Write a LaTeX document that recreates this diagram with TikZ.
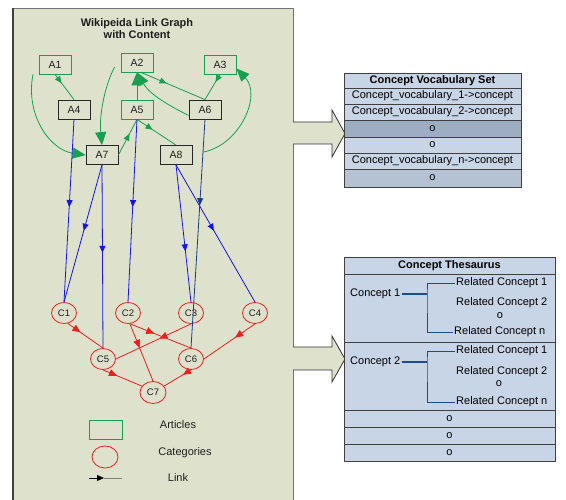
\documentclass[tikz,border=0pt]{standalone}
\usepackage{fontspec}
\setmainfont{Liberation Sans}
\usetikzlibrary{arrows.meta,decorations.markings,shapes.geometric}

\definecolor{panel}{RGB}{222,225,204}
\definecolor{agreen}{RGB}{22,160,80}
\definecolor{cred}{RGB}{240,30,30}
\definecolor{lblue}{RGB}{20,20,235}
\definecolor{navyl}{RGB}{25,60,130}
\definecolor{rowbg}{RGB}{200,213,230}
\definecolor{rowdark}{RGB}{158,174,194}
\definecolor{rowmid}{RGB}{180,194,212}
\definecolor{brk}{RGB}{30,75,140}
\definecolor{txt}{RGB}{30,30,30}

\begin{document}
\begin{tikzpicture}[x=1pt,y=-1pt,
  art/.style={draw=agreen, line width=0.8pt, minimum width=32pt, minimum height=19pt, inner sep=0pt, font=\fontsize{10.5}{12}\selectfont, text=txt},
  artk/.style={art, draw=black!85},
  cat/.style={ellipse, draw=cred, line width=0.8pt, minimum width=25pt, minimum height=21pt, inner sep=0pt, font=\fontsize{9.5}{11}\selectfont, text=txt},
  midarr/.style={postaction={decorate,decoration={markings,mark=at position #1 with {\arrow{Triangle[length=7pt,width=6pt]}}}}},
  redarr/.style={postaction={decorate,decoration={markings,mark=at position #1 with {\arrow{Triangle[length=8pt,width=7pt]}}}}},
  gl/.style={color=agreen, line width=0.8pt},
  bigtip/.style={-{Triangle[length=13pt,width=11pt]}},
  bl/.style={color=lblue, line width=0.8pt},
  nl/.style={color=navyl, line width=0.8pt},
  rl/.style={color=cred, line width=0.8pt},
  rowbox/.style={draw=black!75, line width=0.8pt, fill=rowbg, inner sep=0pt, font=\fontsize{11}{13}\selectfont, text=black},
  lab/.style={font=\fontsize{11}{13}\selectfont, text=black, inner sep=1pt},
  leg/.style={font=\fontsize{11}{13}\selectfont, text=txt},
  blockarrow/.style={fill=panel, draw=black!80, line width=0.8pt}
]
\useasboundingbox (0,0) rectangle (566,500);
\fill[white] (0,0) rectangle (566,500);

% left panel
\fill[panel] (13,8) rectangle (293,500);
\draw[black!55, line width=0.8pt] (13,8) -- (293,8) -- (293,500);
\draw[black!75, line width=1.2pt] (13,8) -- (13,500);

% block arrows
\draw[blockarrow] (293,122) -- (332,122) -- (332,110) -- (345,133.5) -- (332,157) -- (332,144) -- (293,144);
\draw[blockarrow] (293,347) -- (332,347) -- (332,336) -- (345,359) -- (332,382) -- (332,370) -- (293,370);

% title
\node[font=\bfseries\fontsize{11}{12}\selectfont, align=center, text=txt] (title) at (137,29) {Wikipeida Link Graph\\with Content};

% articles
\node[art]  (A1) at (55,64.5) {A1};
\node[art]  (A2) at (137,62.5) {A2};
\node[art]  (A3) at (220,64.5) {A3};
\node[artk] (A4) at (74,109.5) {A4};
\node[art]  (A5) at (137,109.5) {A5};
\node[artk] (A6) at (205,109.5) {A6};
\node[artk] (A7) at (102,155) {A7};
\node[artk] (A8) at (176,155) {A8};

% categories
\node[cat] (C1) at (64,313) {C1};
\node[cat] (C2) at (128,313) {C2};
\node[cat] (C3) at (191,313) {C3};
\node[cat] (C4) at (255,313) {C4};
\node[cat] (C5) at (103,359) {C5};
\node[cat] (C6) at (191,359) {C6};
\node[cat, minimum width=26pt, minimum height=22pt] (C7) at (153,392.5) {C7};

% green links
\draw[gl, midarr=0.35] (A1.south) -- (A4.north);
\draw[gl, midarr=0.3] (A3.south) -- (A6.north);
\draw[gl, bigtip] (A5.north) -- (A2.south);
\draw[gl, bigtip] (A6.200) .. controls (170,106) and (150,95) .. (A2.south);
\draw[gl, midarr=0.4] ([xshift=4]A2.south) -- (A6.north);
\draw[gl, midarr=0.4] (A5.south) -- (A8.north);
\draw[gl, midarr=0.6] (A7.east) -- (A5.south);
\draw[gl, bigtip] ([xshift=-22]A1.south) .. controls (25,115) and (50,150) .. (A7.west);
\draw[gl, bigtip] ([xshift=-6,yshift=-4.5]A2.west) .. controls (105,85) and (99,115) .. (A7.north);
\draw[gl, bigtip] ([xshift=11,yshift=3]A8.east) .. controls (240,145) and (262,95) .. ([yshift=-4]A3.east);

% blue links
\draw[bl, midarr=0.48] (A4.south) -- (C1.north);
\draw[bl, midarr=0.48] (A7.south) -- (C1.north);
\draw[bl, midarr=0.48] (A7.south) -- (C5.north);
\draw[bl, midarr=0.48] (A5.south) -- (C2.north);
\draw[bl, midarr=0.63] (A8.south) -- (C3.north);
\draw[bl, midarr=0.48] (A8.south) -- (C4.north);
\draw[nl, midarr=0.375] (A6.south) -- (C6.north);

% red links
\draw[rl, redarr=0.36] (C1.-70) -- (C5.north);
\draw[rl, redarr=0.4] (C2.-80) -- (C6.north);
\draw[rl, redarr=0.42] (C3.south) -- (C5.east);
\draw[rl, redarr=0.42] (C2.-80) -- (C7.north);
\draw[rl, redarr=0.39] (C4.south) -- (C6.east);
\draw[rl, redarr=0.36] (C5.south) -- (C7.150);
\draw[rl, redarr=0.3] (C6.south) -- (C7.30);

% legend
\node[art, minimum width=33pt] (legA) at (105.5,429.5) {};
\node[leg] (legAt) at (178,425) {Articles};
\node[cat, minimum width=26pt, minimum height=22pt] (legC) at (105,457) {};
\node[leg] (legCt) at (185,453) {Categories};
\coordinate (lk1) at (89,478);
\coordinate (lk2) at (104,478);
\coordinate (lk3) at (122,478);
\draw[gray, line width=1pt] (lk2) -- (lk3);
\draw[black, line width=1pt, -{Triangle[length=7pt,width=6pt]}] (lk1) -- (lk2);
\node[leg] (lkt) at (178,478) {Link};

% Concept Vocabulary Set
\node[rowbox, minimum width=177pt, minimum height=15pt, font=\bfseries\fontsize{11}{13}\selectfont] (vh) at (432.5,80.5) {Concept Vocabulary Set};
\node[rowbox, minimum width=177pt, minimum height=16pt] (v1) at (432.5,96) {Concept\_vocabulary\_1->concept};
\node[rowbox, minimum width=177pt, minimum height=16pt] (v2) at (432.5,112) {Concept\_vocabulary\_2->concept};
\node[rowbox, fill=rowdark, minimum width=177pt, minimum height=17pt] (v3) at (432.5,128.5) {o};
\node[rowbox, minimum width=177pt, minimum height=16pt] (v4) at (432.5,145) {o};
\node[rowbox, minimum width=177pt, minimum height=16pt] (v5) at (432.5,161) {Concept\_vocabulary\_n->concept};
\node[rowbox, fill=rowmid, minimum width=177pt, minimum height=18pt] (v6) at (432.5,178) {o};

% Concept Thesaurus
\node[rowbox, minimum width=211pt, minimum height=17pt, font=\bfseries\fontsize{11}{13}\selectfont] (th) at (449.5,265.5) {Concept Thesaurus};
\node[rowbox, minimum width=211pt, minimum height=68pt] (s1) at (449.5,308) {};
\node[rowbox, minimum width=211pt, minimum height=68pt] (s2) at (449.5,376) {};
\node[rowbox, minimum width=211pt, minimum height=17pt] (t3) at (449.5,418.5) {o};
\node[rowbox, minimum width=211pt, minimum height=17pt] (t4) at (449.5,435.5) {o};
\node[rowbox, minimum width=211pt, minimum height=17pt] (t5) at (449.5,452.5) {o};

\node[lab, anchor=west] (k1) at (349,294) {Concept 1};
\coordinate (b1) at (427,294);
\node[lab, anchor=west] (r11) at (455,283) {Related Concept 1};
\node[lab, anchor=west] (r12) at (455,303) {Related Concept 2};
\node[lab] (r1o) at (500,316) {o};
\node[lab, anchor=west] (r1n) at (453,332) {Related Concept n};
\draw[brk, line width=1.6pt] (k1.east) -- (b1);
\draw[brk, line width=0.8pt] (r11.west) -| (b1) |- (r1n.west);

\node[lab, anchor=west] (k2) at (349,362) {Concept 2};
\coordinate (b2) at (427,362);
\node[lab, anchor=west] (r21) at (455,351) {Related Concept 1};
\node[lab, anchor=west] (r22) at (455,372) {Related Concept 2};
\node[lab] (r2o) at (499,384) {o};
\node[lab, anchor=west] (r2n) at (455,402) {Related Concept n};
\draw[brk, line width=1.6pt] (k2.east) -- (b2);
\draw[brk, line width=0.8pt] (r21.west) -| (b2) |- (r2n.west);
\end{tikzpicture}
\end{document}
